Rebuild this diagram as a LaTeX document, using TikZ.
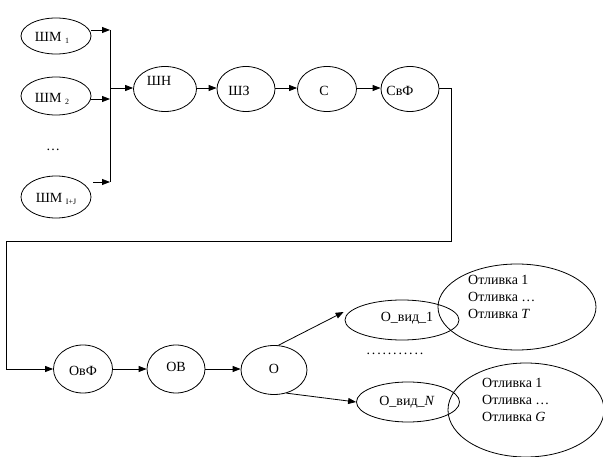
\documentclass[tikz,border=0pt]{standalone}
\usepackage{fontspec}
\setmainfont{Liberation Serif}
\usetikzlibrary{shapes.geometric,arrows.meta}
\begin{document}
\begin{tikzpicture}[x=1pt,y=-1pt,
  every node/.style={font=\fontsize{14}{17}\selectfont},
  oval/.style={draw,ellipse,inner sep=0pt,line width=0.8pt},
  arr/.style={-{Triangle[length=8pt,width=6pt]},line width=0.8pt},
  wire/.style={line width=0.8pt},
  sub/.style={}]
\useasboundingbox (0,0) rectangle (603,457);
\newcommand{\lowidx}[1]{\raisebox{-2.5pt}{\fontsize{8}{8}\selectfont #1}}

% input sources
\node[oval,minimum width=70pt,minimum height=36pt] (sm1) at (56,36) {};
\node at (52,38) {ШМ \lowidx{1}};
\node[oval,minimum width=70pt,minimum height=38pt] (sm2) at (56,96) {};
\node at (52,99) {ШМ \lowidx{2}};
\node (dots) at (53,150) {…};
\node[oval,minimum width=70pt,minimum height=42pt] (smIJ) at (56,197) {};
\node at (56,199) {ШМ \lowidx{I+J}};

% collecting bus
\coordinate (busTop) at (110,30);
\coordinate (busBot) at (110,182);
\coordinate (busMid) at (110,88);
\draw[wire] (busTop) -- (busBot);
\draw[arr] ([yshift=6pt]sm1.east) -- (sm1.east |- busTop) -- (busTop);
\draw[arr] ([yshift=-3pt]sm2.east) -- ([yshift=-3pt]sm2.east -| busTop);
\draw[arr] ([xshift=2pt,yshift=15pt]smIJ.east) -- (busBot);

% main chain
\node[oval,minimum width=63pt,minimum height=45pt] (sh) at (165,89) {};
\node at (159,81) {ШН};
\node[oval,minimum width=58pt,minimum height=45pt] (sz) at (246,89) {};
\node at (239,91) {ШЗ};
\node[oval,minimum width=59pt,minimum height=45pt] (s) at (327,89) {};
\node at (324,91) {С};
\node[oval,minimum width=58pt,minimum height=45pt] (svf) at (410,89) {};
\node at (400,91) {СвФ};

\draw[arr] (busMid) -- (busMid -| sh.west);
\draw[arr] (sh.east |- busMid) -- (sz.west |- busMid);
\draw[arr] (sz.east |- busMid) -- (s.west |- busMid);
\draw[arr] (s.east |- busMid) -- (svf.west |- busMid);

% second row
\node[oval,minimum width=59pt,minimum height=48pt] (ovf) at (83,369) {};
\node at (83,371) {ОвФ};
\node[oval,minimum width=58pt,minimum height=48pt] (ov) at (176,369) {};
\node at (176,367) {ОВ};
\node[oval,minimum width=66pt,minimum height=49pt] (o) at (274,370) {};
\node at (274,369) {О};

% return line
\coordinate (r1) at (451,88);
\coordinate (r2) at (451,241);
\coordinate (r3) at (6,241);
\coordinate (r4) at (6,369);
\draw[arr] (svf.east |- r1) -- (r1) -- (r2) -- (r3) -- (r4) -- (r4 -| ovf.west);
\draw[arr] (ovf.east |- r4) -- (ov.west |- r4);
\draw[arr] (ov.east |- r4) -- (o.west |- r4);

% castings of kind 1
\node[oval,minimum width=158pt,minimum height=86pt] (big1) at (517,307) {};
\node[oval,minimum width=114pt,minimum height=40pt] (ovid1) at (402,320) {};
\node at (407,318) {О\_вид\_1};
\node[anchor=north west,align=left,inner sep=0pt] (t1) at (468,275)
  {Отливка 1\\Отливка …\\Отливка \textit{T}};

% castings of kind N
\node[oval,minimum width=156pt,minimum height=94pt] (big2) at (526,410) {};
\node[oval,minimum width=103pt,minimum height=40pt] (ovidN) at (408,402) {};
\node at (407,402) {О\_вид\_\textit{N}};
\node[anchor=north west,align=left,inner sep=0pt] (t2) at (482,378)
  {Отливка 1\\Отливка …\\Отливка \textit{G}};

\node (rowdots) at (395,354) {\addfontfeature{LetterSpace=13}...........};

\draw[arr] (o.80) -- ([xshift=-1pt,yshift=8pt]ovid1.west);
\draw[arr] (o.-62) -- (ovidN.west);
\end{tikzpicture}
\end{document}
